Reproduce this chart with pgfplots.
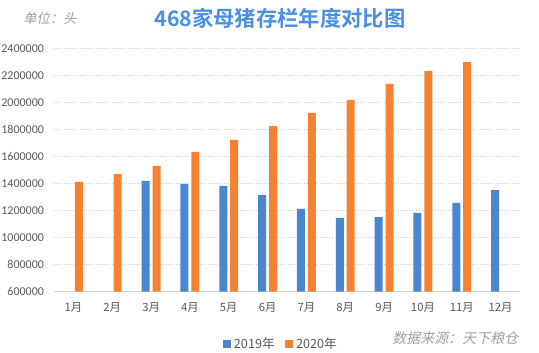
\documentclass[border=0pt]{standalone}
\usepackage{pgfplots}
\pgfplotsset{compat=1.18}
\usepackage{fontspec}
\setmainfont{Carlito}
\newfontfamily\cjk{Noto Sans CJK SC}
\newfontfamily\cjkslant{Noto Sans CJK SC}[FakeSlant=0.2]
\newfontfamily\cjkbold{Noto Sans CJK SC Bold}
\definecolor{cblue}{RGB}{74,134,208}
\definecolor{corange}{RGB}{245,130,50}
\definecolor{tickgray}{RGB}{89,89,89}
\definecolor{titleblue}{RGB}{74,144,226}
\begin{document}
\begin{tikzpicture}
\useasboundingbox (0,0) rectangle (404.25pt,264.75pt);
\begin{axis}[
  at={(40.5pt,46pt)}, anchor=south west,
  scale only axis, width=349.5pt, height=182.25pt,
  xmin=-0.5, xmax=11.5, ymin=600000, ymax=2400000,
  xtick={0,...,11},
  xticklabels={1月,2月,3月,4月,5月,6月,7月,8月,9月,10月,11月,12月},
  x tick label style={font=\cjk\fontsize{8.5}{10}\selectfont, text=tickgray, yshift=-5pt},
  ytick={600000,800000,...,2400000},
  scaled y ticks=false,
  yticklabel style={/pgf/number format/fixed, /pgf/number format/1000 sep={}, /pgf/number format/assume math mode=true, font=\fontsize{9}{10}\selectfont, text=tickgray, xshift=-4pt},
  ymajorgrids, major grid style={dotted, draw=gray!45, line width=0.6pt},
  axis x line*=bottom, axis y line*=left,
  x axis line style={draw=gray!35, line width=0.6pt, -},
  y axis line style={draw=none},
  tick style={draw=none},
  legend style={at={(0.488,-0.215)}, anchor=center, draw=none, legend columns=2, font=\cjk\fontsize{9.5}{11}\selectfont, text=tickgray, /tikz/every even column/.append style={column sep=6pt}, inner sep=0pt},
  legend cell align=left,
]
\addplot[ybar, bar width=6pt, bar shift=-4.1pt, fill=cblue, draw=none, area legend,
  legend image code/.code={\fill[cblue] (0pt,-3pt) rectangle (6pt,3pt);}]
  coordinates {(2,1420000) (3,1398000) (4,1383000) (5,1316000) (6,1213000) (7,1146000) (8,1153000) (9,1183000) (10,1257000) (11,1353000)};
\addlegendentry{2019年}
\addplot[ybar, bar width=6pt, bar shift=4.1pt, fill=corange, draw=none, area legend,
  legend image code/.code={\fill[corange] (0pt,-3pt) rectangle (6pt,3pt);}]
  coordinates {(0,1413000) (1,1472000) (2,1531000) (3,1635000) (4,1724000) (5,1827000) (6,1924000) (7,2020000) (8,2139000) (9,2235000) (10,2301000)};
\addlegendentry{2020年}
\end{axis}
\node[font=\cjkbold\fontsize{16}{18}\selectfont, text=titleblue] at (210pt,251.25pt) {468家母猪存栏年度对比图};
\node[font=\cjkslant\fontsize{10}{12}\selectfont, text=gray!75] at (37.5pt,251.25pt) {单位：头};
\node[font=\cjkslant\fontsize{10.5}{12}\selectfont, text=gray!75, anchor=east] at (392.25pt,11.25pt) {数据来源：天下粮仓};
\end{tikzpicture}
\end{document}
